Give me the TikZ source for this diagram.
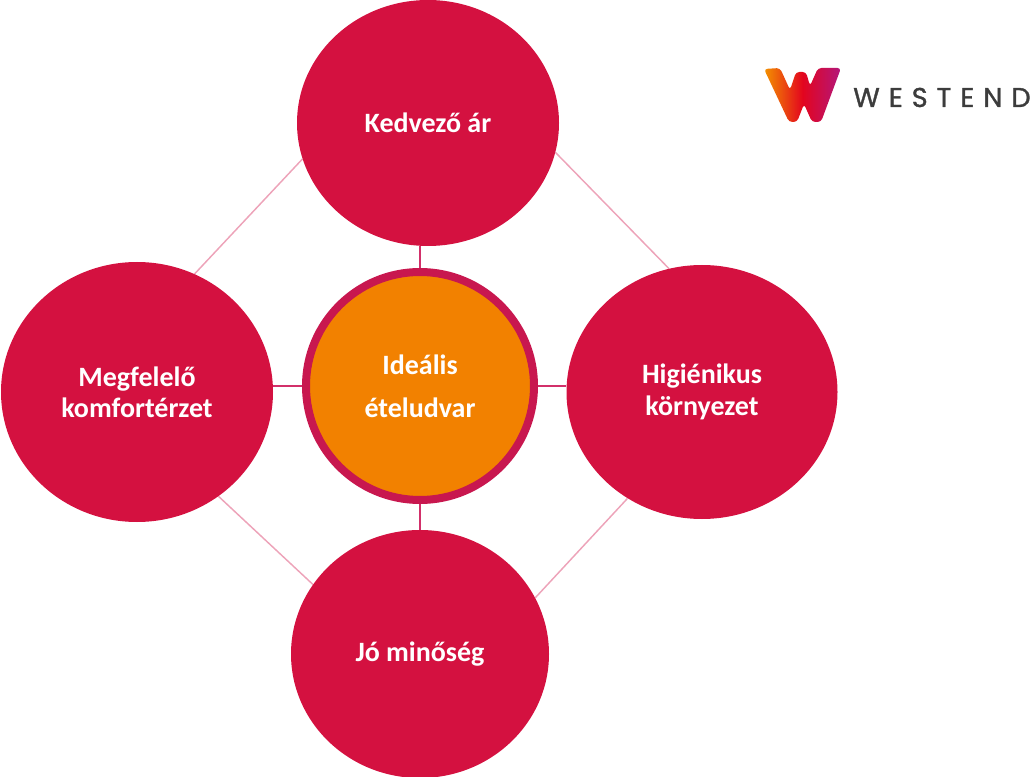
\documentclass[tikz,border=0pt]{standalone}
\usepackage{fontspec}
\setmainfont{Carlito}
\newfontfamily\logofont[LetterSpace=33,FakeBold=1.2]{Poppins}
\usetikzlibrary{shapes.geometric,backgrounds}
\definecolor{petal}{HTML}{D41140}
\definecolor{ring}{HTML}{C8174F}
\definecolor{core}{HTML}{F28100}
\definecolor{spokecol}{HTML}{D2306A}
\definecolor{rimcol}{HTML}{EDA3B9}
\definecolor{wordgray}{HTML}{3C3C3C}
\definecolor{wOrange}{HTML}{F39200}
\definecolor{wRed}{HTML}{E3051E}
\definecolor{wMagenta}{HTML}{B3177C}
\begin{document}
\begin{tikzpicture}[x=0.75pt,y=-0.75pt,
  petalnode/.style={ellipse, fill=petal, inner sep=0pt, text=white,
    font=\bfseries\fontsize{21}{23.5}\selectfont, align=center},
  corenode/.style={circle, fill=core, draw=ring, line width=6pt,
    minimum size=171pt, inner sep=0pt, text=white,
    font=\bfseries\fontsize{21}{32}\selectfont, align=center},
  spoke/.style={draw=spokecol, line width=1.5pt},
  rim/.style={draw=rimcol, line width=1.1pt}]
\useasboundingbox (0,0) rectangle (1036,777);
% nodes
\node[corenode] (c) at (420,386) {Ideális\\ételudvar};
\node[petalnode, minimum width=196.5pt, minimum height=184.5pt] (top) at (428,123) {Kedvező ár};
\node[petalnode, minimum width=204pt, minimum height=195pt] (left) at (137,392) {Megfelelő\\komfortérzet};
\node[petalnode, minimum width=203.25pt, minimum height=190.5pt] (right) at (702,392) {Higiénikus\\környezet};
\node[petalnode, minimum width=193.5pt, minimum height=186pt] (bottom) at (420,654) {Jó minőség};
% connectors
\begin{scope}[on background layer]
  \draw[spoke] (c.north) -- (c.north |- top.south);
  \draw[spoke] (c.south) -- (c.south |- bottom.north);
  \draw[spoke] (c.west) -- (left.east |- c.west);
  \draw[spoke] (c.east) -- (right.west |- c.east);
  \draw[rim] (left.64.8) -- (top.196.1);
  \draw[rim] (top.-13.7) -- (right.105.4);
  \draw[rim] (right.235.6) -- (bottom.26);
  \draw[rim] (left.-52.4) -- (bottom.147.9);
\end{scope}
% logo
\shade[left color=wOrange, right color=wMagenta, middle color=wRed, rounded corners=2.5pt]
  (764,69) -- (780,68) -- (790,90) -- (796,72) -- (806,72) -- (810,86)
  -- (818,68) -- (841,68) -- (821,122) -- (812,122) -- (804,104)
  -- (797,122) -- (789,122) -- cycle;
\node[anchor=base west, inner sep=0pt, text=wordgray,
  font=\logofont\fontsize{20.4}{24}\selectfont] (wordmark) at (853,107) {WESTEND};
\end{tikzpicture}
\end{document}
